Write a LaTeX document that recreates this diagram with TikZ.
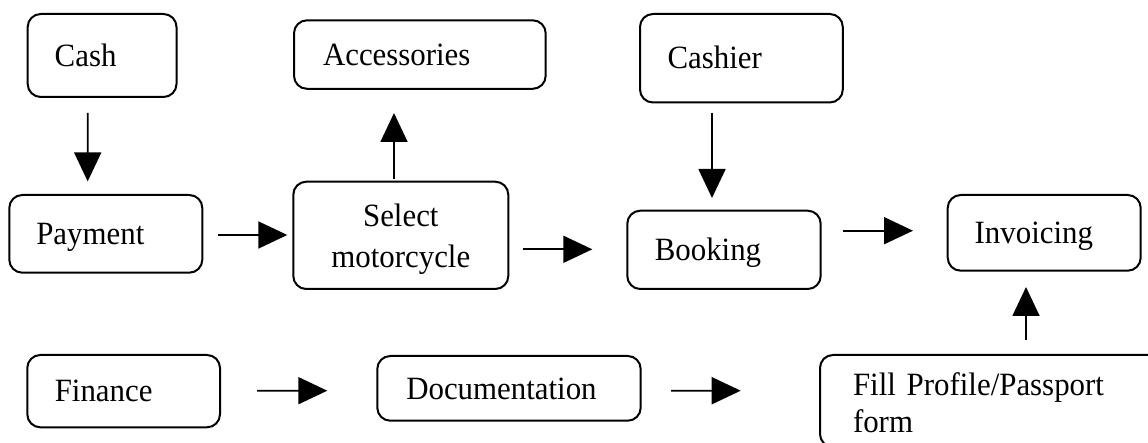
\documentclass[tikz,border=0pt]{standalone}
\usepackage{fontspec}
\setmainfont{Liberation Serif}[FakeStretch=0.95]
\usetikzlibrary{arrows.meta}
\tikzset{
  box/.style={draw, line width=2pt, rounded corners=13pt, align=left,
    font=\fontsize{32.5pt}{41pt}\selectfont, text height=21.5pt, text depth=0pt,
    inner ysep=0pt},
  arr/.style={line width=1.8pt, -{Triangle[width=27pt,length=29pt]}}
}
\begin{document}
\begin{tikzpicture}[x=1pt,y=-1pt]
\useasboundingbox (0,0) rectangle (1148,443);
% top row
\node[box, minimum width=148.8pt, minimum height=83pt, inner xsep=27pt, text width=94.8pt] (cash) at (102.1,55.5) {Cash};
\node[box, minimum width=251.7pt, minimum height=68.5pt, inner xsep=29pt, text width=193.7pt] (acc) at (419.85,54.55) {Accessories};
\node[box, minimum width=202.8pt, minimum height=88.5pt, inner xsep=27.5pt, text width=147.8pt] (cashier) at (741.4,58.25) {Cashier};
% middle row
\node[box, minimum width=193pt, minimum height=77.7pt, inner xsep=27pt, text width=139pt] (pay) at (105.8,233.85) {Payment};
\node[box, minimum width=215pt, minimum height=107.3pt, inner xsep=10pt, text width=195pt, align=center, text height=23pt, text depth=41pt] (sel) at (400.8,235.35) {Select\\motorcycle};
\node[box, minimum width=193.4pt, minimum height=78.3pt, inner xsep=27.5pt, text width=138.4pt] (book) at (724,249.85) {Booking};
\node[box, minimum width=193pt, minimum height=75.7pt, inner xsep=27pt, text width=139pt] (inv) at (1044.2,232.85) {Invoicing};
% bottom row
\node[box, minimum width=192.7pt, minimum height=72.3pt, inner xsep=27.5pt, text width=137.7pt] (fin) at (123.65,391.15) {Finance};
\node[box, minimum width=263.4pt, minimum height=64.7pt, inner xsep=29pt, text width=205.4pt] (doc) at (509,388.35) {Documentation};
\node[box, minimum width=345pt, minimum height=92pt, inner xsep=33pt, text width=279pt, text height=25pt, text depth=37pt, font=\fontsize{32.5pt}{37pt}\selectfont] (fill) at (992.5,401) {Fill Profile/Passport\\form};
% connectors
\draw[arr, shorten <=15pt, shorten >=12.6pt] ([xshift=-14.4pt]cash.south) -- ([xshift=-18.1pt]pay.north);
\draw[arr, shorten <=1.3pt, shorten >=23.2pt] ([xshift=-6.8pt]sel.north) -- ([xshift=-25.85pt]acc.south);
\draw[arr, shorten <=9.2pt, shorten >=11.7pt] ([xshift=-29.4pt]cashier.south) -- ([xshift=-12pt]book.north);
\draw[arr, shorten <=14.4pt, shorten >=5pt] ([yshift=-1.15pt]pay.east) -- ([yshift=0.35pt]sel.west);
\draw[arr, shorten <=13.4pt, shorten >=34pt] ([yshift=-13.95pt]sel.east) -- ([yshift=0.55pt]book.west);
\draw[arr, shorten <=21pt, shorten >=33.7pt] ([yshift=19.15pt]book.east) -- ([yshift=2.15pt]inv.west);
\draw[arr, shorten <=14pt, shorten >=15.3pt] ([xshift=33.5pt]fill.north) -- ([xshift=-18.2pt]inv.south);
\draw[arr, shorten <=36pt, shorten >=49pt] ([yshift=0.45pt]fin.east) -- ([yshift=-2.35pt]doc.west);
\draw[arr, shorten <=29.3pt, shorten >=78.3pt] ([yshift=-2.35pt]doc.east) -- ([yshift=10.3pt]fill.west);
\end{tikzpicture}
\end{document}
